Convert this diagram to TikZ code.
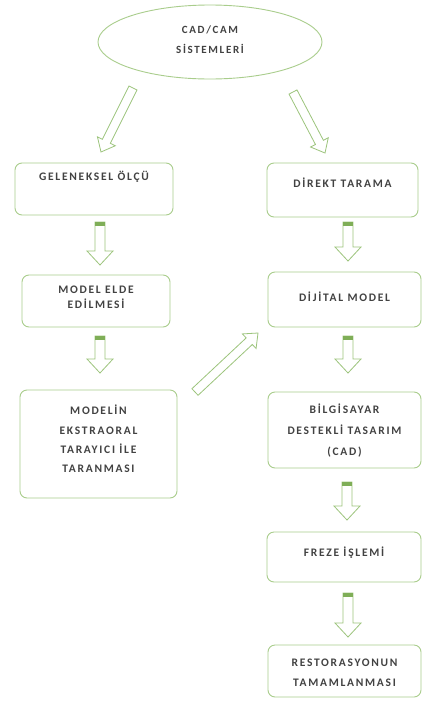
\documentclass[tikz,border=0pt]{standalone}
\usepackage{fontspec}
\setmainfont{Carlito}[LetterSpace=15]
\usetikzlibrary{calc,shapes.geometric}
\definecolor{boxline}{HTML}{A9CD8C}
\definecolor{arrline}{HTML}{9CC47C}
\definecolor{bargreen}{HTML}{7FAE57}
\definecolor{txtgray}{HTML}{424242}
% block arrow: #1 start, #2 end, #3 shaft half width, #4 head half width, #5 head length, #6 bar (y/n)
\newcommand\blockarr[6]{%
  \coordinate (tmpH) at ($(#2)!#5!(#1)$);
  \coordinate (tmpB) at ($(#1)!3.5pt!(#2)$);
  \draw[arrowline] ($(#1)!#3!90:(#2)$) -- ($(tmpH)!#3!90:(#2)$) -- ($(tmpH)!#4!90:(#2)$) -- (#2)
     -- ($(tmpH)!#4!-90:(#2)$) -- ($(tmpH)!#3!-90:(#2)$) -- ($(#1)!#3!-90:(#2)$) -- cycle;
  \ifx#6y\fill[bargreen] ($(#1)!#3!90:(#2)$) -- ($(tmpB)!#3!90:(#2)$) -- ($(tmpB)!#3!-90:(#2)$) -- ($(#1)!#3!-90:(#2)$) -- cycle;\fi
}
\tikzset{
  box/.style={draw=boxline, line width=0.9pt, rounded corners=7pt, fill=white, inner sep=0pt},
  arrowline/.style={draw=arrline, line width=0.8pt, fill=white, line join=miter},
  txt/.style={text=txtgray, font=\bfseries\fontsize{11.5}{13}\selectfont, align=center, inner sep=0pt},
}
\begin{document}
\begin{tikzpicture}[x=1pt,y=-1pt]
\useasboundingbox[fill=white] (0,0) rectangle (423,702);
% nodes
\node[ellipse, draw=boxline, line width=0.9pt, minimum width=224pt, minimum height=74pt, inner sep=0pt] (top) at (210,42) {};
\node[txt, font=\bfseries\fontsize{11}{20}\selectfont] (toptxt) at (210,40) {CAD/CAM\\SİSTEMLERİ};

\node[box, minimum width=158pt, minimum height=52pt] (b1) at (94,189) {};
\node[txt] (t1) at (94,177) {GELENEKSEL ÖLÇÜ};

\node[box, minimum width=151pt, minimum height=54pt] (b2) at (342.5,190) {};
\node[txt] (t2) at (342.5,183) {DİREKT TARAMA};

\node[box, minimum width=148pt, minimum height=52pt] (b3) at (96,301) {};
\node[txt, font=\bfseries\fontsize{11.5}{15.5}\selectfont] (t3) at (96,297.5) {MODEL ELDE\\EDİLMESİ};

\node[box, minimum width=153pt, minimum height=55pt] (b4) at (344.5,299.5) {};
\node[txt] (t4) at (344.5,297) {DİJİTAL MODEL};

\node[box, minimum width=157pt, minimum height=108pt] (b5) at (98.5,444) {};
\node[txt, font=\bfseries\fontsize{11.5}{19.3}\selectfont] (t5) at (98.5,439) {MODELİN\\EKSTRAORAL\\TARAYICI İLE\\TARANMASI};

\node[box, minimum width=153pt, minimum height=76pt] (b6) at (344.5,430) {};
\node[txt, font=\bfseries\fontsize{11.5}{21}\selectfont] (t6) at (344.5,431) {BİLGİSAYAR\\DESTEKLİ TASARIM\\(CAD)};

\node[box, minimum width=154pt, minimum height=50pt] (b7) at (344,557) {};
\node[txt] (t7) at (344,553) {FREZE İŞLEMİ};

\node[box, minimum width=153pt, minimum height=52pt] (b8) at (344.5,671) {};
\node[txt, font=\bfseries\fontsize{11.5}{20}\selectfont] (t8) at (344.5,673) {RESTORASYONUN\\TAMAMLANMASI};

% arrow end points
\coordinate (d1s) at (133,88);  \coordinate (d1e) at (101,152);
\coordinate (d2s) at (293,92);  \coordinate (d2e) at (325,153);
\coordinate (d3s) at (195,392); \coordinate (d3e) at (258,333);
\coordinate (v1s) at (100,222); \coordinate (v1e) at (100,265);
\coordinate (v2s) at (348,222); \coordinate (v2e) at (348,261);
\coordinate (v3s) at (100,336); \coordinate (v3e) at (100,373);
\coordinate (v4s) at (348,336); \coordinate (v4e) at (348,373);
\coordinate (v5s) at (347,482); \coordinate (v5e) at (347,520);
\coordinate (v6s) at (348,593); \coordinate (v6e) at (348,637);

\blockarr{d1s}{d1e}{4.5pt}{10pt}{12pt}{n}
\blockarr{d2s}{d2e}{4.5pt}{10pt}{12pt}{n}
\blockarr{d3s}{d3e}{4.5pt}{10pt}{12pt}{n}
\blockarr{v1s}{v1e}{5pt}{13pt}{14pt}{y}
\blockarr{v2s}{v2e}{5pt}{13pt}{14pt}{y}
\blockarr{v3s}{v3e}{5pt}{13pt}{14pt}{y}
\blockarr{v4s}{v4e}{5pt}{13pt}{14pt}{y}
\blockarr{v5s}{v5e}{5pt}{13pt}{14pt}{y}
\blockarr{v6s}{v6e}{5pt}{13pt}{14pt}{y}
\end{tikzpicture}
\end{document}
